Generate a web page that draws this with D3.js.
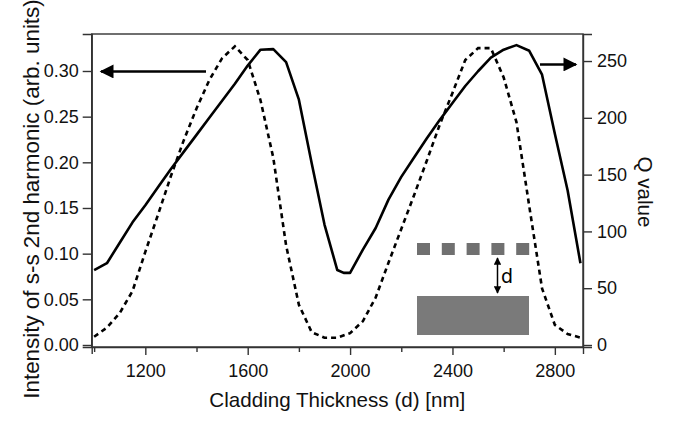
<!DOCTYPE html>
<html><head><meta charset="utf-8">
<script src="https://cdn.jsdelivr.net/npm/d3@7"></script>
<style>
html,body{margin:0;padding:0;background:#fff;}
svg{display:block;font-family:"Liberation Sans",Arial,Helvetica,sans-serif;}
</style></head>
<body>
<svg id="c" width="678" height="424"></svg>
<script>
// Cladding thickness (nm)
const thickness = [1000,1050,1100,1150,1200,1250,1300,1350,1400,1450,1500,1550,1600,1650,1700,1750,1800,1850,1900,1950,1975,2000,2050,2100,2150,2200,2250,2300,2350,2400,2450,2500,2550,2600,2650,2700,2750,2800,2850,2900];
// Q value (solid, right axis)
const qValue = [66,72,90,108,123,139,155,170,185,200,215,230,246,260,260.5,249,216,160,106,66,63.5,63.5,84,103,128,148,165,182,198,213,228,241,253,260,264,259,238,186,136,72];
// Intensity of s-s 2nd harmonic (dashed, left axis)
const thicknessI = [1000,1050,1100,1150,1200,1250,1300,1350,1400,1450,1500,1550,1600,1650,1700,1750,1800,1850,1900,1950,2000,2050,2100,2150,2200,2250,2300,2350,2400,2450,2500,2550,2600,2650,2700,2750,2800,2850,2900];
const intensity = [0.009,0.019,0.035,0.059,0.102,0.143,0.185,0.224,0.259,0.290,0.314,0.327,0.312,0.268,0.205,0.109,0.044,0.014,0.008,0.008,0.013,0.026,0.052,0.090,0.127,0.164,0.202,0.241,0.276,0.312,0.325,0.325,0.293,0.244,0.152,0.062,0.022,0.012,0.008];
const xTicks = [1000,1200,1400,1600,1800,2000,2200,2400,2600,2800];
const xLabels = [1200,1600,2000,2400,2800];
const yLeftTicks = [0,0.05,0.10,0.15,0.20,0.25,0.30];
const yRightTicks = [0,50,100,150,200,250];

const svg = d3.select("#c");
const L=91.7, R=583, T=34, B=347;
const x = d3.scaleLinear().domain([990.5,2910]).range([L,R]);
const yL = d3.scaleLinear().domain([-0.0022,0.3405]).range([B,T]);
const yR = d3.scaleLinear().domain([-1.76,273.8]).range([B,T]);

const defs = svg.append("defs");
defs.append("marker").attr("id","ah").attr("viewBox","0 0 10 10").attr("refX",9).attr("refY",5)
  .attr("markerWidth",5).attr("markerHeight",5).attr("orient","auto-start-reverse")
  .append("path").attr("d","M0,0L10,5L0,10z").attr("fill","#000");
defs.append("marker").attr("id","ah2").attr("viewBox","0 0 10 10").attr("refX",9).attr("refY",5)
  .attr("markerWidth",6).attr("markerHeight",5.8).attr("orient","auto")
  .append("path").attr("d","M0,0L10,5L0,10z").attr("fill","#000");

// Inset drawing (cladding schematic)
const g = svg.append("g");
const sq = [0,1,2,3,4];
g.selectAll("rect.sq").data(sq).enter().append("rect")
  .attr("x",d=>417+d*24.8).attr("y",243).attr("width",13).attr("height",12).attr("fill","#707070");
g.append("rect").attr("x",417).attr("y",296).attr("width",112).attr("height",39).attr("fill","#7a7a7a");
g.append("line").attr("x1",497.5).attr("x2",497.5).attr("y1",258).attr("y2",293)
  .attr("stroke","#000").attr("stroke-width",1.5)
  .attr("marker-start","url(#ah)").attr("marker-end","url(#ah)");
g.append("text").attr("x",501).attr("y",283).attr("font-size",19).attr("font-family","'DejaVu Sans',sans-serif").text("d");

// curves
const lineQ = d3.line().x((d,i)=>x(thickness[i])).y(d=>yR(d));
svg.append("path").attr("d",lineQ(qValue)).attr("fill","none").attr("stroke","#000").attr("stroke-width",2.6).attr("stroke-linejoin","round");
const lineI = d3.line().x((d,i)=>x(thicknessI[i])).y(d=>yL(d));
svg.append("path").attr("d",lineI(intensity)).attr("fill","none").attr("stroke","#000").attr("stroke-width",2.6).attr("stroke-dasharray","5,4");

// frame
svg.append("rect").attr("x",L).attr("y",T).attr("width",R-L).attr("height",B-T).attr("fill","none").attr("stroke","#333").attr("stroke-width",1.4);

// axes
const ax = svg.append("g").attr("transform",`translate(0,${B})`)
 .call(d3.axisBottom(x).tickValues(xTicks).tickSize(7).tickPadding(10)
   .tickFormat(d=>xLabels.includes(d)?d:""));
ax.selectAll(".tick line").attr("y2",d=>xLabels.includes(d)?8:5);
const ayl = svg.append("g").attr("transform",`translate(${L},0)`)
 .call(d3.axisLeft(yL).tickValues(yLeftTicks).tickSize(9).tickPadding(4).tickFormat(d3.format(".2f")));
const ayr = svg.append("g").attr("transform",`translate(${R},0)`)
 .call(d3.axisRight(yR).tickValues(yRightTicks).tickSize(9).tickPadding(5).tickFormat(d3.format("d")));
[ax,ayl,ayr].forEach(a=>{
  a.select(".domain").attr("stroke","#333").attr("stroke-width",1.4);
  a.selectAll(".tick line").attr("stroke","#333").attr("stroke-width",1.4);
  a.selectAll("text").attr("font-size",18).attr("fill","#111").attr("font-family","'Liberation Sans',Arial,sans-serif");
});

// arrows pointing to axes
svg.append("line").attr("x1",206).attr("y1",yL(0.2995)).attr("x2",101).attr("y2",yL(0.2995))
  .attr("stroke","#000").attr("stroke-width",2.4).attr("marker-end","url(#ah2)");
svg.append("line").attr("x1",540).attr("y1",yR(247)).attr("x2",576).attr("y2",yR(247))
  .attr("stroke","#000").attr("stroke-width",2.4).attr("marker-end","url(#ah2)");

// titles
svg.append("text").attr("x",(L+R)/2).attr("y",407).attr("text-anchor","middle").attr("font-size",20.6).attr("fill","#111").text("Cladding Thickness (d) [nm]");
svg.append("text").attr("transform","translate(39,199) rotate(-90)").attr("text-anchor","middle").attr("font-size",22.4).attr("fill","#111").text("Intensity of s-s 2nd harmonic (arb. units)");
svg.append("text").attr("transform","translate(638,192) rotate(90)").attr("text-anchor","middle").attr("font-size",20.6).attr("fill","#111").text("Q value");
</script>
</body></html>
